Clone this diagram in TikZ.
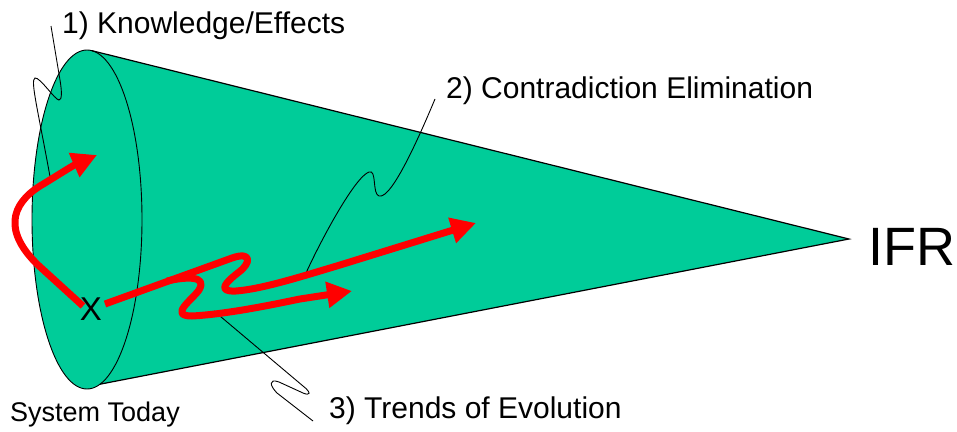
\documentclass[tikz,border=0pt]{standalone}
\usepackage{fontspec}
\setmainfont{Liberation Sans}
\usetikzlibrary{arrows.meta}
\definecolor{conefill}{RGB}{0,204,153}
\definecolor{arrowred}{RGB}{255,0,0}
\tikzset{
  lbl/.style={inner sep=0pt, anchor=base west, font=\fontsize{30}{36}\selectfont},
  redpath/.style={draw=arrowred, line width=7pt, line join=round},
  redarrow/.style={redpath, -{Triangle[length=25pt,width=25pt]}},
  callout/.style={draw=black, line width=0.9pt},
  outline/.style={draw=black, line width=1.2pt}
}
\begin{document}
\begin{tikzpicture}[x=1pt,y=-1pt]
\useasboundingbox (0,0) rectangle (957,431);
% cone
\coordinate (top) at (92,50.7);
\coordinate (apex) at (849,239);
\coordinate (bot) at (100,384.2);
\coordinate (base) at (87,219.5);
\fill[conefill] (top) -- (apex) -- (bot) -- cycle;
\fill[conefill] (base) ellipse [x radius=55pt, y radius=169.5pt];
\draw[black, line width=0.9pt] (base) ellipse [x radius=55pt, y radius=169.5pt];
\draw[outline] (top) -- (apex) -- (bot);
% labels
\node[lbl] (k) at (62,33) {1) Knowledge/Effects};
\node[lbl] (c) at (446,98) {2) Contradiction Elimination};
\node[lbl] (t) at (329,418) {3) Trends of Evolution};
\node[lbl, font=\fontsize{27}{32}\selectfont] (st) at (10,421) {System Today};
\node[lbl, font=\fontsize{54}{60}\selectfont] (ifr) at (868,265) {IFR};
\node[inner sep=0pt, font=\fontsize{33}{38}\selectfont] (x) at (91,309) {X};
% callouts
\coordinate (k1) at (51,26);
\coordinate (k2) at (51,182);
\draw[callout] (k1) -- (60,80) .. controls (62,92) and (62,100) .. (59,100)
  .. controls (55,100) and (40,77) .. (35,78)
  .. controls (30,80) and (38,110) .. (k2);
\coordinate (c1) at (435,99);
\coordinate (c2) at (306,273);
\draw[callout] (c1) .. controls (422,130) and (392,200) .. (379,196)
  .. controls (372,194) and (377,169) .. (369,172)
  .. controls (355,177) and (322,238) .. (c2);
\coordinate (t1) at (214,311);
\coordinate (t2) at (313,421);
\draw[callout] (t1) -- (303,386) .. controls (312,393) and (310,396) .. (303,393)
  -- (279,382) .. controls (268,378) and (270,386) .. (277,393) -- (t2);
% red arrows
\coordinate (s1) at (83,306);
\coordinate (e1) at (97,155);
\draw[redarrow] (s1) -- (38,265) .. controls (4,232) and (10,205) .. (40,186)
  .. controls (55,177) and (72,166) .. (e1);
\coordinate (s2) at (105,304);
\coordinate (br) at (167,281);
\coordinate (e2) at (476,223);
\draw[redarrow] (s2) -- (232,258) .. controls (252,251) and (251,263) .. (239,272)
  .. controls (226,282) and (216,292) .. (236,291)
  .. controls (262,289) and (300,277) .. (340,265) -- (e2);
\coordinate (e3) at (352,291);
\draw[redarrow] (br) .. controls (185,277) and (208,275) .. (199,290)
  .. controls (193,299) and (168,316) .. (192,316)
  .. controls (230,314) and (280,303) .. (300,299) -- (e3);
\end{tikzpicture}
\end{document}
